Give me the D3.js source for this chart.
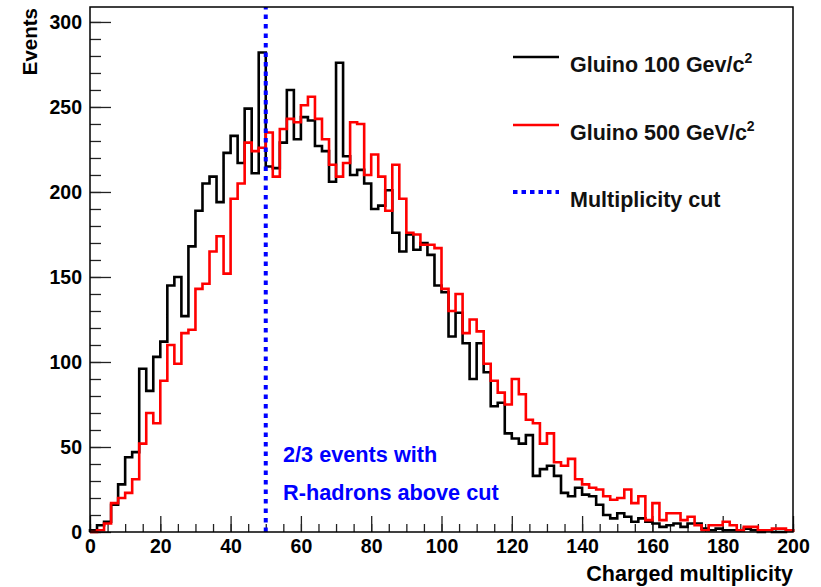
<!DOCTYPE html>
<html>
<head>
<meta charset="utf-8">
<script src="https://cdn.jsdelivr.net/npm/d3@7"></script>
<style>
  html, body { margin: 0; padding: 0; background: #fff; }
  svg { display: block; }
  text { font-family: "Liberation Sans", Arial, Helvetica, sans-serif; font-weight: bold; }
</style>
</head>
<body>
<svg id="chart"></svg>
<script>
// histogram bins: lower edges, width 2
const binWidth = 2;
const binLows = d3.range(0, 200, binWidth);

// Gluino 100 GeV/c^2 (black)
const gluino100 = [
  1, 4, 6, 16, 28, 44, 47, 96, 83, 103,
  112, 145, 150, 127, 168, 189, 205, 209, 194, 223,
  233, 217, 249, 211, 282, 215, 214, 229, 260, 231,
  244, 242, 227, 224, 206, 276, 221, 210, 213, 205,
  190, 192, 201, 176, 165, 175, 166, 170, 163, 145,
  141, 115, 129, 111, 90, 111, 94, 74, 76, 58,
  55, 52, 57, 33, 37, 39, 33, 23, 21, 26,
  22, 21, 16, 10, 8, 11, 9, 6, 8, 6,
  5, 3, 4, 5, 3, 5, 5, 2, 1, 2,
  1, 1, 1, 2, 1, 0, 1, 0, 0, 1
];

// Gluino 500 GeV/c^2 (red)
const gluino500 = [
  0, 1, 5, 17, 20, 23, 31, 52, 70, 64,
  89, 110, 99, 117, 119, 143, 146, 165, 174, 152,
  196, 205, 229, 224, 226, 235, 209, 237, 243, 241,
  251, 256, 243, 231, 216, 209, 217, 241, 240, 210,
  222, 209, 189, 216, 196, 176, 175, 169, 169, 167,
  143, 130, 140, 117, 125, 118, 99, 89, 82, 75,
  90, 81, 66, 64, 52, 58, 41, 39, 43, 31,
  28, 26, 25, 21, 19, 20, 25, 17, 21, 7,
  17, 7, 11, 11, 7, 9, 4, 1, 4, 4,
  6, 4, 1, 3, 3, 1, 1, 2, 2, 1
];

const multiplicityCut = 50;
const xTicks = [0, 20, 40, 60, 80, 100, 120, 140, 160, 180, 200];
const yTicks = [0, 50, 100, 150, 200, 250, 300];

const width = 821;
const height = 587;
const margin = { left: 90, right: 28, top: 7, bottom: 55 };

const svg = d3.select("#chart").attr("width", width).attr("height", height);

const x = d3.scaleLinear().domain([0, 200]).range([margin.left, width - margin.right]);
const y = d3.scaleLinear().domain([0, 308.8]).range([height - margin.bottom, margin.top]);

// minor ticks
svg.append("g")
  .attr("transform", "translate(" + margin.left + ",0)")
  .call(d3.axisLeft(y).tickValues(d3.range(0, 301, 10)).tickSize(-11).tickFormat(""))
  .call(g => g.select(".domain").remove())
  .call(g => g.selectAll("line").attr("stroke", "#222").attr("stroke-width", 1.3));

svg.append("g")
  .attr("transform", "translate(0," + y(0) + ")")
  .call(d3.axisBottom(x).tickValues(d3.range(0, 201, 5)).tickSize(-8).tickFormat(""))
  .call(g => g.select(".domain").remove())
  .call(g => g.selectAll("line").attr("stroke", "#222").attr("stroke-width", 1.3));

// major ticks + labels
svg.append("g")
  .attr("transform", "translate(" + margin.left + ",0)")
  .call(d3.axisLeft(y).tickValues(yTicks).tickSize(-21).tickPadding(8))
  .call(g => g.select(".domain").remove())
  .call(g => g.selectAll("line").attr("stroke", "#222").attr("stroke-width", 1.3))
  .call(g => g.selectAll("text").attr("font-size", 19.5).attr("fill", "#000"));

svg.append("g")
  .attr("transform", "translate(0," + y(0) + ")")
  .call(d3.axisBottom(x).tickValues(xTicks).tickSize(-16).tickPadding(7))
  .call(g => g.select(".domain").remove())
  .call(g => g.selectAll("line").attr("stroke", "#222").attr("stroke-width", 1.3))
  .call(g => g.selectAll("text").attr("font-size", 19.5).attr("fill", "#000"));

// histogram outlines
const stepPath = (vals) => {
  let d = "M" + x(binLows[0]) + "," + y(0);
  vals.forEach((v, i) => {
    d += "L" + x(binLows[i]) + "," + y(v) + "L" + x(binLows[i] + binWidth) + "," + y(v);
  });
  d += "L" + x(binLows[binLows.length - 1] + binWidth) + "," + y(0);
  return d;
};

svg.append("path")
  .attr("d", stepPath(gluino100))
  .attr("fill", "none")
  .attr("stroke", "#000")
  .attr("stroke-width", 2.6);

svg.append("path")
  .attr("d", stepPath(gluino500))
  .attr("fill", "none")
  .attr("stroke", "#ff0000")
  .attr("stroke-width", 2.6);

// multiplicity cut
svg.append("line")
  .attr("x1", x(multiplicityCut)).attr("x2", x(multiplicityCut))
  .attr("y1", y(0)).attr("y2", margin.top)
  .attr("stroke", "#0000ff")
  .attr("stroke-width", 4)
  .attr("stroke-dasharray", "4.5 5");

// frame
svg.append("rect")
  .attr("x", margin.left).attr("y", margin.top)
  .attr("width", x(200) - margin.left).attr("height", y(0) - margin.top)
  .attr("fill", "none")
  .attr("stroke", "#000")
  .attr("stroke-width", 1.5);

// axis titles
svg.append("text")
  .attr("transform", "translate(37," + (margin.top + 1) + ") rotate(-90)")
  .attr("text-anchor", "end")
  .attr("font-size", 20.5)
  .text("Events");

svg.append("text")
  .attr("x", x(200)).attr("y", 581)
  .attr("text-anchor", "end")
  .attr("font-size", 21.5)
  .text("Charged multiplicity");

// legend
const legend = [
  { label: "Gluino 100 Gev/c", sup: "2", color: "#000", dash: null, y: 57 },
  { label: "Gluino 500 GeV/c", sup: "2", color: "#ff0000", dash: null, y: 125 },
  { label: "Multiplicity cut", sup: null, color: "#0000ff", dash: "4.5 4", y: 192 }
];

const lg = svg.append("g");
legend.forEach(item => {
  lg.append("line")
    .attr("x1", 513).attr("x2", 559)
    .attr("y1", item.y).attr("y2", item.y)
    .attr("stroke", item.color)
    .attr("stroke-width", item.dash ? 4 : 2.6)
    .attr("stroke-dasharray", item.dash);
  const t = lg.append("text")
    .attr("x", 570).attr("y", item.y + 15)
    .attr("font-size", 21.5)
    .attr("fill", "#111")
    .text(item.label);
  if (item.sup) {
    t.append("tspan").attr("dy", -9).attr("font-size", 14).text(item.sup);
  }
});

// annotation
const note = svg.append("text")
  .attr("fill", "#0000ff")
  .attr("font-size", 21.7);
note.append("tspan").attr("x", 283).attr("y", 462).text("2/3 events with");
note.append("tspan").attr("x", 283).attr("y", 500).text("R-hadrons above cut");
</script>
</body>
</html>
